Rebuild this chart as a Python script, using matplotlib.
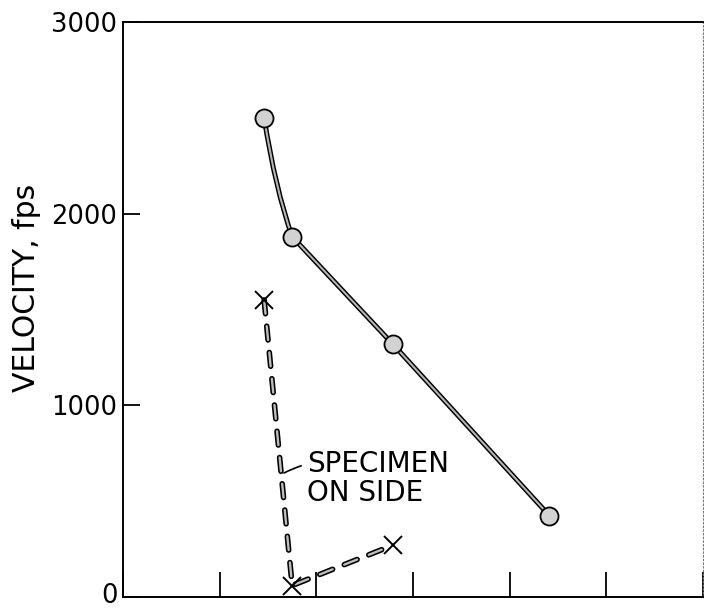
import matplotlib

matplotlib.use("Agg")
import matplotlib.pyplot as plt
import matplotlib.transforms as mtransforms
from matplotlib.path import Path
from matplotlib.patches import PathPatch

# impact velocity readings (ft/s) at each station
station = [1.46, 1.75, 2.79, 4.41]
velocity = [2500, 1880, 1320, 425]

# specimen landing on its side
side_station = [1.46, 1.75, 2.79]
side_velocity = [1550, 60, 270]

y_ticks = [0, 1000, 2000, 3000]
y_tick_labels = ["0", "1000", "2000", "3000"]
x_ticks = [0, 1, 2, 3, 4, 5, 6]

plt.rcParams["font.family"] = ["DejaVu Sans"]
plt.rcParams["lines.scale_dashes"] = False

fig = plt.figure(figsize=(7.04, 6.09), dpi=100)
ax = fig.add_axes([123 / 704, 12 / 609, 580 / 704, 575 / 609])

ax.set_xlim(0, 6)
ax.set_ylim(0, 3000)

# main curve: gentle bend into the second point, straight afterwards
(x0, y0), (x1, y1), (x2, y2), (x3, y3) = zip(station, velocity)
bend = 0.4
ctrl = (x0 + bend * (x1 - x0), y1 + bend * (y0 - y1))
verts = [(x0, y0), ctrl, (x1, y1), (x2, y2), (x3, y3)]
codes = [Path.MOVETO, Path.CURVE3, Path.CURVE3, Path.LINETO, Path.LINETO]
curve = Path(verts, codes)
ax.add_patch(PathPatch(curve, facecolor="none", edgecolor="black", lw=3.6,
                       capstyle="round", joinstyle="round", zorder=2))
ax.add_patch(PathPatch(curve, facecolor="none", edgecolor="#b5b5b5", lw=1.5,
                       capstyle="round", joinstyle="round", zorder=2.1))
ax.plot(station, velocity, ls="none", marker="o", ms=13, mfc="#d2d2d2",
        mec="black", mew=1.3, zorder=3)

# dashed track of the side-landing specimen
dash = (0, (10, 9))
ax.plot(side_station, side_velocity, color="black", lw=4.0, linestyle=dash,
        dash_capstyle="round", zorder=2)
ax.plot(side_station, side_velocity, color="#bdbdbd", lw=1.7, linestyle=dash,
        dash_capstyle="round", zorder=2.1)
ax.plot(side_station, side_velocity, ls="none", marker="x", ms=13, mew=1.4,
        color="black", zorder=3)

ax.annotate("SPECIMEN\nON SIDE", xy=(1.64, 640), xytext=(1.9, 620),
            fontsize=20, va="center", ha="left", linespacing=1.05,
            arrowprops=dict(arrowstyle="-", color="black", lw=1.2,
                            connectionstyle="arc3,rad=0.3"))

ax.set_yticks(y_ticks)
ax.set_yticklabels(y_tick_labels)
ax.set_xticks(x_ticks)
ax.set_xticklabels([])
ax.tick_params(axis="y", direction="in", length=12, width=1.3,
               labelsize=18.5, pad=4)
ax.tick_params(axis="x", direction="in", length=18, width=1.3)

# lift the zero label a touch off the bottom edge
zero = ax.get_yticklabels()[0]
zero.set_transform(zero.get_transform()
                   + mtransforms.ScaledTranslation(0, 3 / 72, fig.dpi_scale_trans))

ax.set_ylabel("VELOCITY, fps", fontsize=21.5)
ax.yaxis.set_label_coords(-0.142, 0.537)

for side in ["left", "bottom", "top"]:
    ax.spines[side].set_linewidth(1.4)
ax.spines["right"].set_linewidth(0.8)
ax.spines["right"].set_linestyle(":")
ax.spines["right"].set_color("#777777")

fig.savefig("out.png", dpi=100)
